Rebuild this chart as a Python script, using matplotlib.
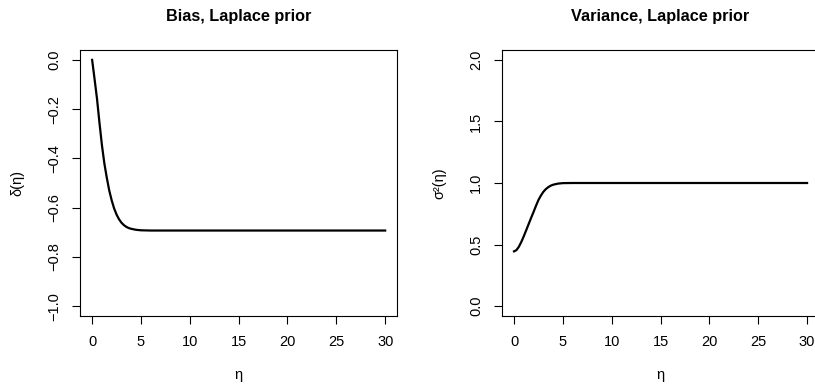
import matplotlib
matplotlib.use("Agg")
import matplotlib.pyplot as plt

plt.rcParams['font.family'] = ['Liberation Sans', 'DejaVu Sans']

eta = [0, 0.25, 0.5, 0.75, 1.0, 1.25, 1.5, 1.75, 2.0, 2.25, 2.5, 2.75, 3.0,
       3.25, 3.5, 3.75, 4.0, 4.5, 5.0, 6.0, 10, 15, 20, 25, 30]
bias = [0.0, -0.078, -0.158, -0.255, -0.345, -0.42, -0.478, -0.53, -0.57,
        -0.603, -0.628, -0.647, -0.661, -0.671, -0.678, -0.683, -0.686,
        -0.690, -0.692, -0.693, -0.693, -0.693, -0.693, -0.693, -0.693]
variance = [0.445, 0.455, 0.483, 0.522, 0.568, 0.617, 0.667, 0.717, 0.765,
            0.815, 0.862, 0.898, 0.928, 0.950, 0.966, 0.978, 0.986, 0.995,
            0.999, 1.0, 1.0, 1.0, 1.0, 1.0, 1.0]

xticks = [0, 5, 10, 15, 20, 25, 30]
bias_ticks = [-1.0, -0.8, -0.6, -0.4, -0.2, 0.0]
var_ticks = [0.0, 0.5, 1.0, 1.5, 2.0]

W, H = 815, 385
fig = plt.figure(figsize=(W / 100, H / 100), dpi=100)


def panel(left_px, y, yticks, ylim, title, ylabel):
    ax = fig.add_axes([left_px / W, (H - 316) / H, 316.5 / W, 266 / H])
    ax.plot(eta, y, color='black', lw=1.6)
    ax.set_xlim(-1.2, 31.2)
    ax.set_ylim(*ylim)
    ax.set_xticks(xticks)
    ax.set_yticks(yticks)
    ax.set_xticklabels([str(t) for t in xticks])
    ax.set_yticklabels([f"{t:.1f}".replace('-', '\u2212') for t in yticks])
    ax.tick_params(length=5.8, width=0.8, labelsize=10.5, pad=8)
    ax.tick_params(axis='y', labelrotation=90)
    for lab in ax.get_yticklabels():
        lab.set_va('center')
    for s in ax.spines.values():
        s.set_linewidth(0.8)
    cx = (left_px + 316.5 / 2) / W
    fig.text(cx, 1 - 17 / H, title, ha='center', va='center',
             fontsize=11.7, fontweight='bold')
    fig.text(cx, 1 - 375 / H, '\u03b7', ha='center', va='center',
             fontsize=10.5)
    fig.text((left_px - 63) / W, 1 - 183 / H, ylabel, ha='center',
             va='center', rotation=90, fontsize=10.5)
    return ax


panel(80.4, bias, bias_ticks, (-1.04, 0.04),
      'Bias, Laplace prior', '\u03b4(\u03b7)')
panel(502.3, variance, var_ticks, (-0.08, 2.08),
      'Variance, Laplace prior', '\u03c3\u00b2(\u03b7)')

fig.savefig('out.png', dpi=100)
